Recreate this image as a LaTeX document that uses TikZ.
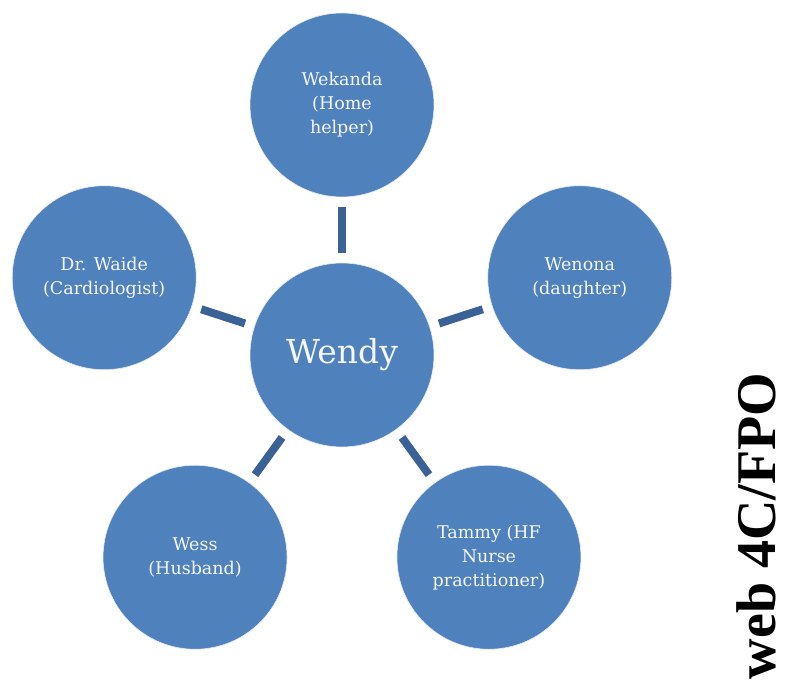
\documentclass[tikz,border=0pt]{standalone}
\usepackage{fontspec}
\usepackage{tikz}
\usetikzlibrary{positioning,calc}
\setmainfont{DejaVu Serif}
\newfontfamily\stampfont{Liberation Serif}
\definecolor{bubble}{RGB}{79,129,189}
\definecolor{spoke}{RGB}{58,98,150}
\tikzset{
  person/.style={circle,fill=bubble,draw=white!85!bubble,line width=0.6pt,minimum size=184pt,inner sep=0pt,outer sep=0pt,align=center,text=white!94!bubble,font=\fontsize{17.5}{24}\selectfont},
  hub/.style={person,font=\fontsize{33}{40}\selectfont},
  link/.style={line width=8pt,draw=spoke,shorten <=10pt,shorten >=10pt},
  stamp/.style={rotate=90,font=\stampfont\bfseries\fontsize{56}{56}\selectfont},
}
\begin{document}
\begin{tikzpicture}[x=1pt,y=1pt]
  \useasboundingbox (0,0) rectangle (800,692);
  \node[hub] (wendy) at (342,337) {Wendy};
  \node[person] (wekanda) at ($(wendy)+(90:250pt)$) {Wekanda\\(Home\\helper)};
  \node[person] (wenona) at ($(wendy)+(18:250pt)$) {Wenona\\(daughter)};
  \node[person] (tammy) at ($(wendy)+(-54:250pt)$) {Tammy (HF\\Nurse\\practitioner)};
  \node[person] (wess) at ($(wendy)+(234:250pt)$) {Wess\\(Husband)};
  \node[person] (waide) at ($(wendy)+(162:250pt)$) {Dr. Waide\\(Cardiologist)};
  \foreach \who in {wekanda,wenona,tammy,wess,waide}
    \draw[link] (wendy) -- (\who);
  \node[stamp] (fpo) at (756,166) {web 4C/FPO};
\end{tikzpicture}
\end{document}
